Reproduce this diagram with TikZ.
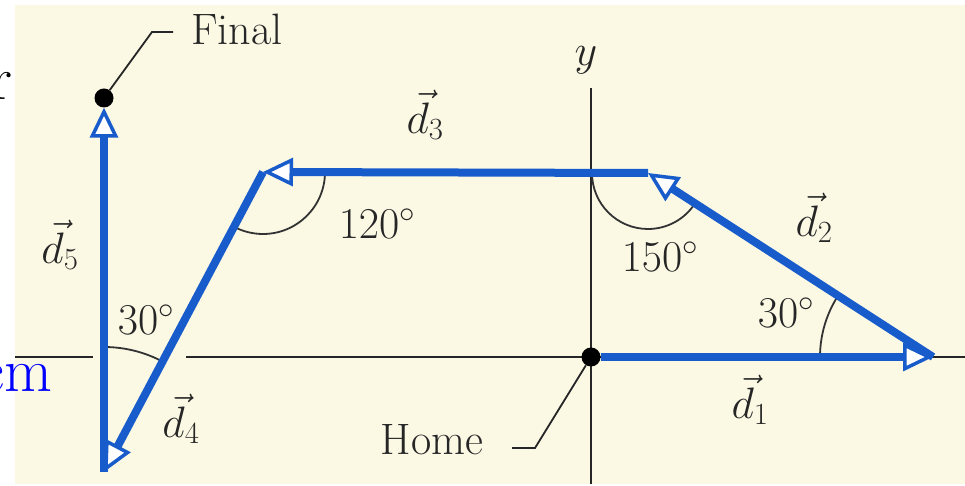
\RequirePackage{fix-cm}
\documentclass[tikz,border=0pt]{standalone}
\usepackage{amsmath}
\usetikzlibrary{arrows.meta, calc}
\definecolor{vecblue}{RGB}{24,92,204}
\definecolor{paper}{RGB}{251,249,228}
\tikzset{
  vec/.style={line width=8pt, draw=vecblue,
      -{Triangle[length=30pt, width=28pt, fill=white, line width=3.5pt]}},
  axis/.style={line width=1.8pt, draw=black!85},
  anglearc/.style={line width=1.8pt, draw=black!80},
  leader/.style={line width=1.8pt, draw=black!85},
  dot/.style={circle, fill=black, inner sep=0pt, minimum size=19pt},
  lbl/.style={inner sep=1pt, text=black!85, font=\fontsize{44}{50}\selectfont},
  stray/.style={anchor=base east, inner sep=0pt, font=\fontsize{62}{70}\selectfont},
}

\begin{document}
\begin{tikzpicture}[x=1pt, y=1pt]
  \useasboundingbox (0,0) rectangle (965,486);
  \fill[white] (0,0) rectangle (965,486);
  \fill[paper] (15,2) rectangle (965,481);
  \node[stray] (rtxt) at (13,386) {r};
  \node[stray, text=blue] (cmtxt) at (53,94) {cm};
  % axes
  \draw[axis] (15,129) -- (93,129);
  \draw[axis] (186,129) -- (965,129);
  \draw[axis] (591,398) -- (591,2);
  \node[lbl] (ylbl) at (586,426) {$y$};
  % corners of the path
  \coordinate (P1) at (933,129);
  \coordinate (P2) at (648,313);
  \coordinate (P3) at (263,314);
  \coordinate (P4) at (104,14);
  \node[dot] (home) at (591,129) {};
  \node[dot] (final) at (104,388) {};
  % angles
  \draw[anglearc] ([shift={(62:125)}]P4) arc[start angle=62, end angle=90, radius=125];
  \draw[anglearc] ([shift={(0:62)}]P3) arc[start angle=0, end angle=-118, radius=62];
  \draw[anglearc] ([shift={(180:56)}]P2) arc[start angle=180, end angle=327, radius=56];
  \draw[anglearc] ([shift={(147:113)}]P1) arc[start angle=147, end angle=180, radius=113];
  % displacements
  \draw[vec] (home.east) -- (P1);
  \draw[vec] (P1) -- (P2);
  \draw[vec] (P2) -- (P3);
  \draw[vec] (P3) -- (P4);
  \draw[vec] (P4) -- (final.south);
  \foreach \p/\j in {{750,86}/1, {814,268}/2, {425,371}/3, {181,67}/4, {60,241}/5}
    \node[lbl] (d\j lbl) at (\p) {$\vec{d}_{\j}$};
  \foreach \p/\a/\n in {{146,166}/30/a, {377,262}/120/b, {660,229}/150/c, {786,173}/30/d}
    \node[lbl] (ang\n) at (\p) {$\a^{\circ}$};
  % labels with leaders
  \node[lbl] (finallbl) at (237,457) {Final};
  \coordinate (finalbend) at (152,454);
  \draw[leader] (final) -- (finalbend) -- +(21,0);
  \node[lbl] (homelbl) at (432,46) {Home};
  \coordinate (homebend) at (535,38);
  \draw[leader] (home) -- (homebend) -- +(-23,0);
\end{tikzpicture}
\end{document}
